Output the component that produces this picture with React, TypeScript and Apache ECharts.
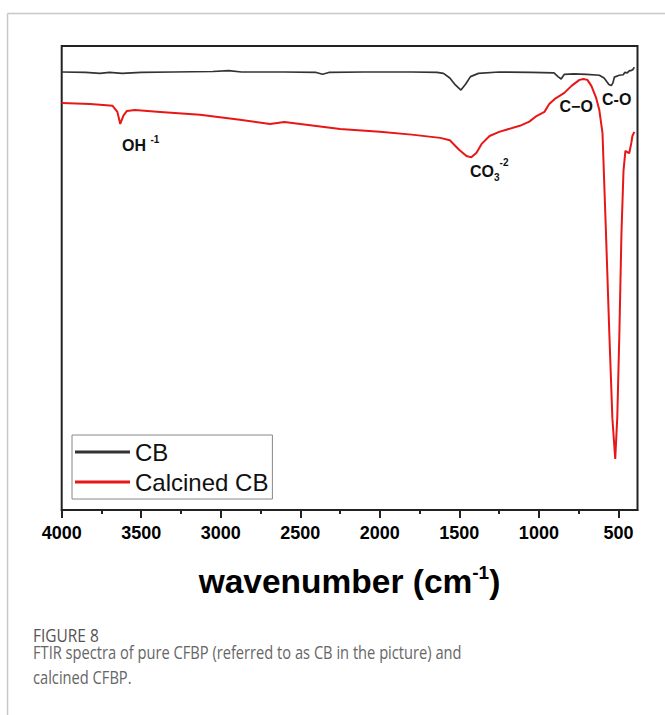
import React, { useEffect, useRef } from "react";
import * as echarts from "echarts";

// ---- data ----
const majorTicks = [4000, 3500, 3000, 2500, 2000, 1500, 1000, 500];
const minorTicks = [3750, 3250, 2750, 2250, 1750, 1250, 750];

const cbWavenumber = [
  4000, 3850, 3760, 3700, 3620, 3500, 3300, 3050, 2950, 2870, 2600, 2400, 2360, 2320, 2100, 1800,
  1640, 1600, 1560, 1525, 1490, 1460, 1430, 1380, 1250, 1050, 905, 880, 860, 840, 780, 700, 620,
  590, 560, 545, 535, 525, 495, 470, 460, 445, 430, 420, 410, 400,
];
const cbValue = [
  94.4, 94.3, 94.1, 94.3, 94.1, 94.3, 94.4, 94.5, 94.7, 94.4, 94.4, 94.3, 93.9, 94.3, 94.4, 94.4,
  94.3, 94.1, 93.1, 91.6, 90.5, 91.8, 93.4, 94.1, 94.4, 94.3, 94.2, 93.4, 92.9, 93.9, 94.0, 93.9, 93.7,
  93.1, 91.7, 91.5, 92.0, 93.3, 93.7, 93.8, 94.3, 94.2, 94.7, 94.7, 94.9, 95.4,
];

const calcinedWavenumber = [
  4000, 3820, 3680, 3650, 3632, 3612, 3590, 3540, 3380, 3130, 2880, 2690, 2600, 2250, 2000, 1800,
  1620, 1560, 1500, 1455, 1425, 1392, 1360, 1310, 1250, 1120, 1060, 1015, 965, 935, 900, 840, 795,
  745, 720, 695, 670, 640, 620, 600, 578, 557, 538, 520, 507, 494, 481, 468, 456, 443, 432, 419, 412, 400,
];
const calcinedValue = [
  87.7, 87.5, 87.1, 85.8, 83.2, 85.0, 86.0, 86.2, 85.8, 85.2, 84.1, 83.2, 83.6, 82.1, 81.5, 80.9,
  80.2, 79.7, 77.6, 76.3, 76.0, 77.0, 78.9, 80.6, 81.5, 82.8, 83.7, 84.9, 85.8, 87.5, 88.6, 89.9, 91.4,
  92.7, 92.9, 92.7, 91.4, 88.8, 86.2, 81.2, 59.5, 38.0, 19.8, 11.0, 20.1, 38.0, 59.5, 73.1, 77.4, 77.1, 76.9, 79.1, 80.6, 81.5,
];

const seriesNames = ["CB", "Calcined CB"];
const captionTitle = "FIGURE 8";
const captionLines = [
  "FTIR spectra of pure CFBP (referred to as CB in the picture) and",
  "calcined CFBP.",
];

const FONT = "'Liberation Sans', Arial, Helvetica, sans-serif";
const CAPTION_FONT = "'Open Sans', 'Noto Sans', sans-serif";

export default function App() {
  const ref = useRef<HTMLDivElement>(null);

  useEffect(() => {
    if (!ref.current) return;
    const chart = echarts.init(ref.current, null, { renderer: "svg" });

    const cbData = cbWavenumber.map((w, i) => [w, cbValue[i]]);
    const calData = calcinedWavenumber.map((w, i) => [w, calcinedValue[i]]);

    const option: any = {
      animation: false,
      backgroundColor: "#fff",
      grid: {
        left: 61.7,
        right: 27.5,
        top: 46,
        bottom: 205,
        show: true,
        borderColor: "#222",
        borderWidth: 2,
        backgroundColor: "transparent",
      },
      xAxis: [
        {
          type: "value",
          min: 380,
          max: 4000,
          inverse: true,
          position: "bottom",
          axisLine: { show: true, lineStyle: { color: "#222", width: 2 } },
          axisTick: {
            show: true,
            customValues: majorTicks,
            length: 8,
            lineStyle: { color: "#222", width: 2 },
          },
          axisLabel: {
            show: true,
            customValues: majorTicks,
            formatter: (v: number) => String(v),
            fontSize: 18,
            fontWeight: "bold",
            fontFamily: FONT,
            color: "#000",
            margin: 14,
          },
          splitLine: { show: false },
        },
        {
          type: "value",
          min: 380,
          max: 4000,
          inverse: true,
          position: "bottom",
          axisLine: { show: false },
          axisTick: {
            show: true,
            customValues: minorTicks,
            length: 4,
            lineStyle: { color: "#222", width: 2 },
          },
          axisLabel: { show: false },
          splitLine: { show: false },
        },
      ],
      yAxis: {
        type: "value",
        min: 0,
        max: 100,
        show: false,
      },
      legend: {
        data: seriesNames,
        orient: "vertical",
        left: 72,
        top: 435,
        padding: [5, 4, 5, 3],
        itemGap: 6,
        itemWidth: 55,
        itemHeight: 3,
        icon: "rect",
        borderColor: "#888",
        borderWidth: 1,
        backgroundColor: "#fff",
        textStyle: { fontSize: 24, fontFamily: FONT, color: "#111" },
      },
      series: [
        {
          name: seriesNames[0],
          type: "line",
          data: cbData,
          xAxisIndex: 0,
          showSymbol: false,
          symbol: "none",
          color: "#333",
          lineStyle: { color: "#333", width: 1.7 },
          z: 3,
        },
        {
          name: seriesNames[1],
          type: "line",
          data: calData,
          xAxisIndex: 0,
          showSymbol: false,
          symbol: "none",
          color: "#e81717",
          lineStyle: { color: "#e81717", width: 2 },
          z: 2,
        },
      ],
      graphic: [
        // page frame
        {
          type: "line",
          shape: { x1: 7.5, y1: 13.5, x2: 665, y2: 13.5 },
          style: { stroke: "#c8c8c8", lineWidth: 1.5 },
        },
        {
          type: "line",
          shape: { x1: 7.5, y1: 13.5, x2: 7.5, y2: 715 },
          style: { stroke: "#c8c8c8", lineWidth: 1.5 },
        },
        // axis name
        {
          type: "text",
          x: 349.5,
          y: 581,
          style: {
            text: "{a|wavenumber (cm}{s|-1}{a|)}",
            textAlign: "center",
            textVerticalAlign: "middle",
            fill: "#000",
            rich: {
              a: { fontSize: 33.5, fontWeight: "bold", fontFamily: FONT, lineHeight: 38, fill: "#000", verticalAlign: "middle" },
              s: { fontSize: 19, fontWeight: "bold", fontFamily: FONT, lineHeight: 19, padding: [0, 0, 17, 0], fill: "#000", verticalAlign: "middle" },
            },
          },
        },
        // annotations
        {
          type: "text",
          x: 122,
          y: 145,
          style: {
            text: "{a|OH }{s|-1}",
            textAlign: "left",
            textVerticalAlign: "middle",
            fill: "#111",
            rich: {
              a: { fontSize: 16, fontWeight: "bold", fontFamily: FONT, lineHeight: 17, fill: "#111", verticalAlign: "middle" },
              s: { fontSize: 10, fontWeight: "bold", fontFamily: FONT, lineHeight: 10, padding: [0, 0, 12, 0], fill: "#111", verticalAlign: "middle" },
            },
          },
        },
        {
          type: "text",
          x: 470,
          y: 171.5,
          style: {
            text: "{a|CO}{b|3}{c|-2}",
            textAlign: "left",
            textVerticalAlign: "middle",
            fill: "#111",
            rich: {
              a: { fontSize: 16, fontWeight: "bold", fontFamily: FONT, lineHeight: 17, fill: "#111", verticalAlign: "middle" },
              b: { fontSize: 10, fontWeight: "bold", fontFamily: FONT, lineHeight: 10, padding: [11, 0, 0, 0], fill: "#111", verticalAlign: "middle" },
              c: { fontSize: 10, fontWeight: "bold", fontFamily: FONT, lineHeight: 10, padding: [0, 0, 19, 0], fill: "#111", verticalAlign: "middle" },
            },
          },
        },
        {
          type: "text",
          x: 559.5,
          y: 106.5,
          style: {
            text: "C\u2212O",
            textAlign: "left",
            textVerticalAlign: "middle",
            fill: "#111",
            font: `bold 16px ${FONT}`,
          },
        },
        {
          type: "text",
          x: 602,
          y: 99.3,
          style: {
            text: "C-O",
            textAlign: "left",
            textVerticalAlign: "middle",
            fill: "#111",
            font: `bold 16px ${FONT}`,
          },
        },
        // caption
        {
          type: "text",
          x: 33,
          y: 635.5,
          scaleX: 0.86,
          style: {
            text: captionTitle,
            textAlign: "left",
            textVerticalAlign: "middle",
            fill: "#555",
            font: `normal 18px ${CAPTION_FONT}`,
          },
        },
        {
          type: "text",
          x: 33,
          y: 652,
          scaleX: 0.815,
          style: {
            text: captionLines[0],
            textAlign: "left",
            textVerticalAlign: "middle",
            fill: "#666",
            font: `normal 18px ${CAPTION_FONT}`,
          },
        },
        {
          type: "text",
          x: 33,
          y: 676.5,
          scaleX: 0.815,
          style: {
            text: captionLines[1],
            textAlign: "left",
            textVerticalAlign: "middle",
            fill: "#666",
            font: `normal 18px ${CAPTION_FONT}`,
          },
        },
      ],
    };

    chart.setOption(option);
    return () => {
      chart.dispose();
    };
  }, []);

  return (
    <div
      ref={ref}
      style={{ position: "absolute", left: 0, top: 0, width: 665, height: 715, background: "#fff" }}
    />
  );
}
